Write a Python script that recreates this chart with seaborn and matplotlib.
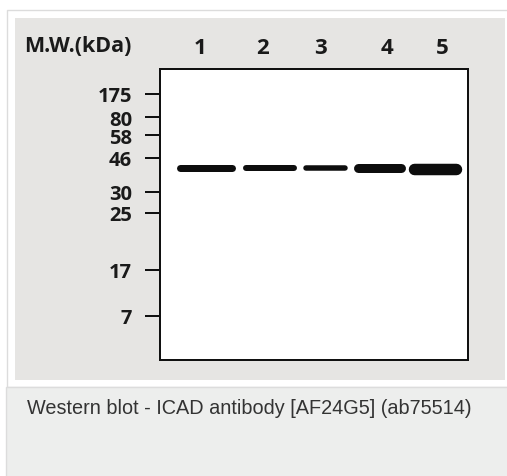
#!/usr/bin/env python3
"""Western blot figure: ICAD antibody [AF24G5] (ab75514), redrawn with seaborn."""

import pandas as pd
import matplotlib.pyplot as plt
import seaborn as sns
from matplotlib.patches import Rectangle

# --- Data ---
LANES = ["1", "2", "3", "4", "5"]
MARKERS = ["175", "80", "58", "46", "30", "25", "17", "7"]
# migration distance of each marker from the top of the gel (px)
MARKER_MIGRATION = [25, 48, 66, 89, 123, 144, 201, 247]
# band per lane: centre (lane units), width (lane units), thickness (px), migration (px)
BAND_CENTER = [1.00, 2.12, 3.10, 4.04, 5.02]
BAND_WIDTH = [1.02, 0.95, 0.79, 0.91, 0.95]
BAND_THICKNESS = [7.0, 6.0, 5.5, 9.0, 11.5]
BAND_MIGRATION = [99, 99, 99, 99, 100]

CAPTION = "Western blot - ICAD antibody [AF24G5] (ab75514)"

# --- Layout (pixels of the 507x477 output) ---
W, H = 507, 477
GEL = (160, 70, 468, 361)        # left, top, right, bottom
GEL_DEPTH = 291
X_LIM = (0.193, 5.596)
LANE_LABEL_POS = [0.895, 2.0, 3.0, 4.175, 5.14]
PX = 0.72                         # points per pixel at dpi 100

LABEL_FONT = ["Open Sans", "DejaVu Sans"]


def fig_box(fig, x0, y0, x1, y1, **kw):
    fig.patches.append(Rectangle((x0 / W, 1 - y1 / H), (x1 - x0) / W, (y1 - y0) / H,
                                 transform=fig.transFigure, figure=fig, zorder=-10, **kw))


def main() -> None:
    sns.set_theme(style="white")
    plt.rcParams["font.family"] = LABEL_FONT

    fig = plt.figure(figsize=(W / 100, H / 100), dpi=100, facecolor="white")

    # page frames
    fig_box(fig, 6.5, 10.5, 520, 388, facecolor="white", edgecolor="#dcdcdc", lw=1)
    fig_box(fig, 15, 19, 505, 381, facecolor="#e6e5e3", edgecolor="none")
    fig_box(fig, 6, 388, 520, 490, facecolor="#edeeed", edgecolor="#dcdcdc", lw=1)

    l, t, r, b = GEL
    ax = fig.add_axes([l / W, 1 - b / H, (r - l) / W, (b - t) / H])
    ax.set_zorder(5)
    ax.set_facecolor("white")

    # bands: one thick round-capped stroke per lane
    rows = []
    for lane, c, w, th, m in zip(LANES, BAND_CENTER, BAND_WIDTH, BAND_THICKNESS, BAND_MIGRATION):
        cap = th / 2 / 57  # round cap overhang in lane units
        for x in (c - w / 2 + cap, c + w / 2 - cap):
            rows.append({"lane": lane, "x": x, "y": m, "thickness": th})
    bands = pd.DataFrame(rows)
    sns.lineplot(
        data=bands, x="x", y="y", units="lane", estimator=None, sort=False,
        size="thickness", sizes={th: th * PX for th in BAND_THICKNESS},
        color="#0d0d0d", solid_capstyle="round", legend=False, ax=ax,
    )

    ax.set_xlim(*X_LIM)
    ax.set_ylim(GEL_DEPTH, 0)
    ax.set_xlabel("")
    ax.set_ylabel("")

    # marker ladder on the left
    ax.set_yticks(MARKER_MIGRATION)
    ax.set_yticklabels(MARKERS, fontsize=14.5, fontweight="bold", color="#1a1a1a")
    ax.tick_params(axis="y", left=True, length=15 * PX, width=2 * PX, color="#111111",
                   pad=13 * PX)

    # lane numbers on top
    ax.xaxis.tick_top()
    ax.set_xticks(LANE_LABEL_POS)
    ax.set_xticklabels(LANES, fontsize=16, fontweight="bold", color="#1a1a1a")
    ax.tick_params(axis="x", top=True, bottom=False, length=0, pad=11 * PX)

    for s in ax.spines.values():
        s.set_visible(True)
        s.set_color("#111111")
        s.set_linewidth(2 * PX)

    fig.text(24 / W, 1 - 46 / H, "M.W.(kDa)", ha="left", va="center",
             fontsize=15.5, fontweight="bold", color="#1a1a1a")

    fig.text(27 / W, 1 - 409 / H, CAPTION, ha="left", va="center",
             fontsize=14.3, color="#333333", family=["Liberation Sans", "DejaVu Sans"])

    fig.savefig("out.png", dpi=100, facecolor="white")
    plt.close(fig)


if __name__ == "__main__":
    main()
